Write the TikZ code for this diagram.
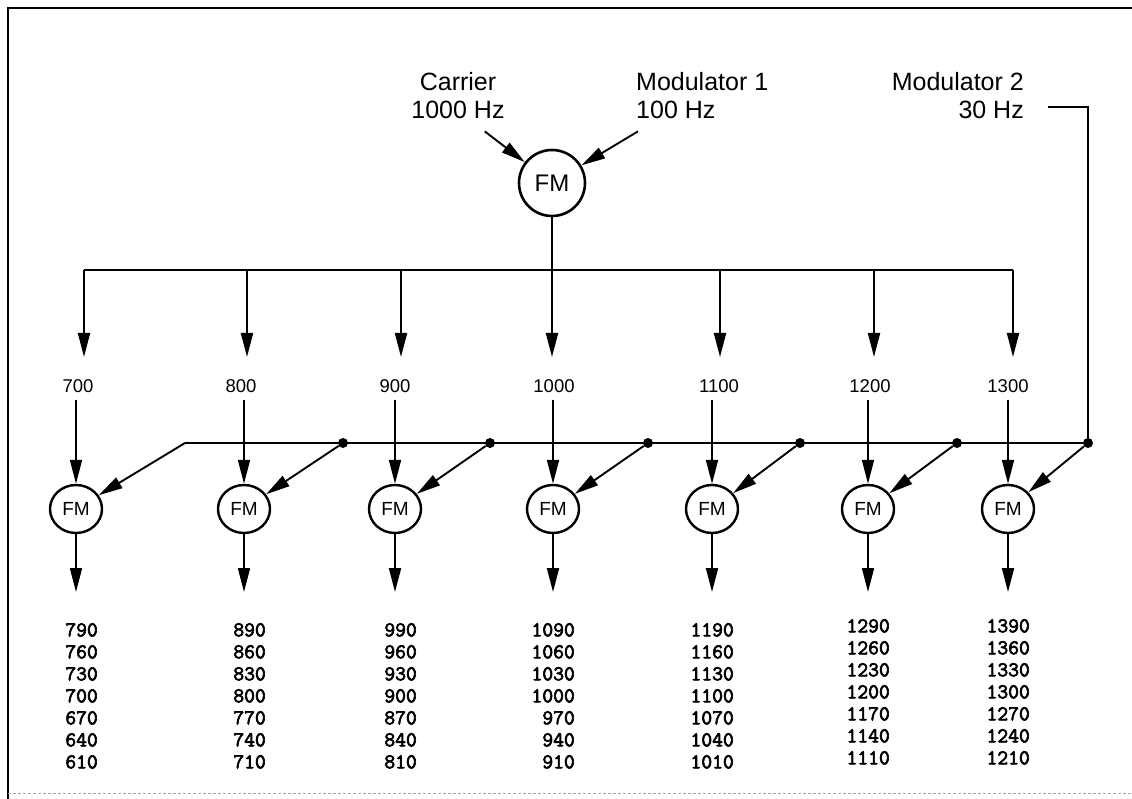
\documentclass[tikz,border=0pt]{standalone}
\usepackage{fontspec}
\setmainfont{Liberation Sans}
\newfontfamily\numfont[FakeBold=3]{Latin Modern Mono}
\usetikzlibrary{arrows.meta,positioning,shapes.geometric}
% seven sideband frequencies of one carrier, spaced 30 Hz
\newcommand\fmlist[1]{%
  \the\numexpr#1+90\relax\\\the\numexpr#1+60\relax\\\the\numexpr#1+30\relax\\%
  #1\\\the\numexpr#1-30\relax\\\the\numexpr#1-60\relax\\\the\numexpr#1-90\relax}
\tikzset{
  fm/big/.style={
    circle,
    draw,
    line width=2.6pt,
    minimum size=66pt,
    inner sep=0pt,
    font=\fontsize{24}{26}\selectfont
  },
  fm/small/.style={
    ellipse,
    draw,
    line width=2.4pt,
    minimum width=52pt,
    minimum height=48pt,
    inner sep=0pt,
    font=\fontsize{19}{20}\selectfont
  },
  fm/src/.style={font=\fontsize{25}{28}\selectfont, inner sep=0pt},
  fm/freq/.style={font=\fontsize{18.5}{20}\selectfont, inner sep=0pt},
  fm/list/.style={font=\numfont\fontsize{21}{22}\selectfont, align=right, inner sep=0pt, anchor=north east},
  fm/line/.style={line width=1.9pt},
  fm/arrow/.style={-{Triangle[length=24pt,width=12pt]}, line width=1.9pt},
  fm/dot/.style={circle, fill, inner sep=0pt, minimum size=10pt}
}

\begin{document}
\begin{tikzpicture}[x=1pt,y=-1pt]
  \useasboundingbox (0,0) rectangle (1132,799);
  % frame
  \draw[line width=2.4pt] (8,799) -- (8,8) -- (1132,8);
  \draw[black!35, line width=1pt, dash pattern=on 3pt off 2pt] (8,793) -- (1132,793);

  % sources and the first FM stage
  \node[fm/src,align=center] (car) at (458,96) {Carrier\\1000 Hz};
  \node[fm/src,align=left,anchor=west] (mod1) at (636,96) {Modulator 1\\100 Hz};
  \node[fm/src,align=right,anchor=east] (mod2) at (1024,96) {Modulator 2\\30 Hz};
  \node[fm/big] (fm0) at (552,183) {FM};
  \draw[fm/arrow] ([xshift=-20pt,yshift=-12pt]car.south east) -- (fm0);
  \draw[fm/arrow] ([xshift=2pt,yshift=-12pt]mod1.south west) -- (fm0);

  % modulator 2 line and its taps
  \coordinate (m2) at (1048,107);
  \coordinate (j7) at (185,443);
  \foreach \n/\x in {8/343,9/490,10/648,11/800,12/957,13/1088}
    \node[fm/dot] (d\n) at (\x,443) {};
  \draw[fm/line] (m2) -| (d13);
  \draw[fm/line] (j7) -- (d13);

  % carrier bus
  \coordinate (b7) at (84,270);
  \coordinate (b13) at (1013,270);
  \draw[fm/line] (b7) -- (b13);

  % one column per sideband of the first stage
  \foreach \n/\xu/\xc/\xl/\f/\yl in {7/84/76/78/700/623,8/247/244/241/800/623,9/401/395/395/900/623,
      10/552/553/554/1000/623,11/720/712/719/1100/623,12/874/868/870/1200/619,13/1013/1008/1008/1300/619}{
    \coordinate (b\n) at (\xu,270);
    \coordinate (t\n) at (\xu,357);
    \node[fm/freq] (f\n) at (\xl,386) {\f};
    \node[fm/small] (s\n) at (\xc,509) {FM};
    \coordinate (o\n) at (\xc,592);
    \node[fm/list] (l\n) at (\xc+22,\yl) {\fmlist{\f}};
    \ifnum\n=10
      \draw[fm/arrow] (fm0) -- (t\n);
    \else
      \draw[fm/arrow] (b\n) -- (t\n);
    \fi
    \draw[fm/arrow,shorten <=7pt] (s\n |- f\n.south) -- (s\n);
    \draw[fm/arrow] (s\n) -- (o\n);
  }
  \draw[fm/arrow] (j7) -- (s7);
  \foreach \n in {8,...,13}
    \draw[fm/arrow] (d\n) -- (s\n);
\end{tikzpicture}
\end{document}
